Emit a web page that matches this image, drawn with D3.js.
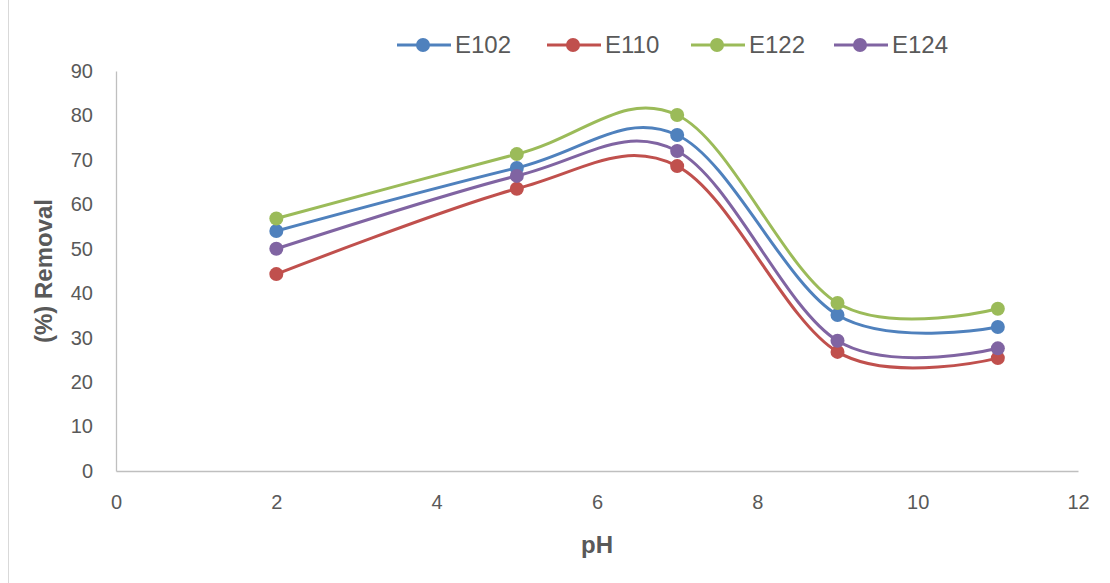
<!DOCTYPE html>
<html>
<head>
<meta charset="utf-8">
<script src="https://cdn.jsdelivr.net/npm/d3@7"></script>
<style>
    body { margin: 0; background: #fff; }
    #chart { width: 1110px; height: 583px; }
    text { font-family: "Liberation Sans", sans-serif; fill: #595959; }
</style>
</head>
<body>
<div id="chart"></div>
<script>
// data
const phValues = [2, 5, 7, 9, 11];
const seriesNames = ["E102", "E110", "E122", "E124"];
const e102 = [54.0, 68.2, 75.6, 35.1, 32.4];
const e110 = [44.3, 63.5, 68.6, 26.8, 25.4];
const e122 = [56.8, 71.3, 80.1, 37.8, 36.5];
const e124 = [50.0, 66.4, 72.0, 29.3, 27.6];
const xTicks = [0, 2, 4, 6, 8, 10, 12];
const yTicks = [0, 10, 20, 30, 40, 50, 60, 70, 80, 90];

const colors = ["#4F81BD", "#C0504D", "#9BBB59", "#8064A2"];
const allSeries = [e102, e110, e122, e124].map((vals, i) => ({
    name: seriesNames[i],
    color: colors[i],
    points: vals.map((v, j) => ({x: phValues[j], y: v}))
}));

const svg = d3.select("#chart").append("svg")
    .attr("width", 1110)
    .attr("height", 583);

// chart frame edge on the left
svg.append("line")
    .attr("x1", 8.5).attr("x2", 8.5)
    .attr("y1", 0).attr("y2", 583)
    .attr("stroke", "#d9d9d9");

const margin = {left: 116, right: 32, top: 71, bottom: 112};
const x = d3.scaleLinear().domain([0, 12]).range([margin.left, 1110 - margin.right]);
const y = d3.scaleLinear().domain([0, 90]).range([583 - margin.bottom, margin.top]);

// axes
const xAxis = svg.append("g")
    .attr("transform", `translate(0, ${y(0)})`)
    .call(d3.axisBottom(x).tickValues(xTicks).tickSize(0).tickPadding(24));
const yAxis = svg.append("g")
    .attr("transform", `translate(${x(0)}, 0)`)
    .call(d3.axisLeft(y).tickValues(yTicks).tickSize(0).tickPadding(23));
[xAxis, yAxis].forEach(g => {
    g.select(".domain").attr("stroke", "#bfbfbf").attr("stroke-width", 1.3);
    g.selectAll("text").style("font-size", "20px").style("fill", "#595959")
        .style("font-family", '"Liberation Sans", sans-serif');
});

// axis titles
svg.append("text")
    .attr("transform", `translate(52, ${(y(0) + y(90)) / 2}) rotate(-90)`)
    .attr("text-anchor", "middle")
    .style("font-weight", "bold")
    .style("font-size", "24px")
    .text("(%) Removal");
svg.append("text")
    .attr("x", x(6))
    .attr("y", 553)
    .attr("text-anchor", "middle")
    .style("font-weight", "bold")
    .style("font-size", "24px")
    .text("pH");

// smoothed lines
const line = d3.line()
    .x(d => x(d.x))
    .y(d => y(d.y))
    .curve(d3.curveCardinal.tension(0));

const seriesG = svg.selectAll(".series")
    .data(allSeries)
    .enter()
    .append("g")
    .attr("class", "series");
seriesG.append("path")
    .attr("d", d => line(d.points))
    .attr("fill", "none")
    .attr("stroke", d => d.color)
    .attr("stroke-width", 3);
seriesG.each(function (s) {
    d3.select(this).selectAll("circle")
        .data(s.points)
        .enter()
        .append("circle")
        .attr("cx", d => x(d.x))
        .attr("cy", d => y(d.y))
        .attr("r", 7)
        .attr("fill", s.color);
});

// legend
const legendX = [397, 547, 691, 834];
const legend = svg.selectAll(".legend")
    .data(allSeries)
    .enter()
    .append("g")
    .attr("class", "legend")
    .attr("transform", (d, i) => `translate(${legendX[i]}, 45)`);
legend.append("line")
    .attr("x1", 0).attr("x2", 54)
    .attr("stroke", d => d.color)
    .attr("stroke-width", 3);
legend.append("circle")
    .attr("cx", 26)
    .attr("r", 7)
    .attr("fill", d => d.color);
legend.append("text")
    .attr("x", 58)
    .attr("y", 8)
    .style("font-size", "24px")
    .text(d => d.name);
</script>
</body>
</html>
